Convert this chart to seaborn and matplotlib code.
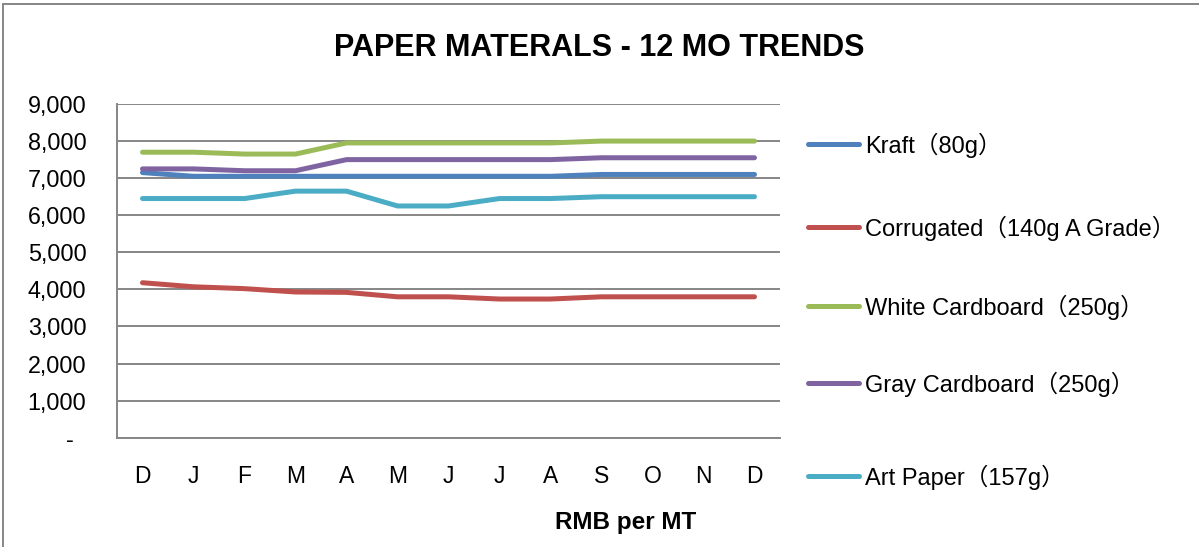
import matplotlib
matplotlib.use("Agg")
import matplotlib.pyplot as plt
from matplotlib.lines import Line2D
from matplotlib.ticker import FuncFormatter, MultipleLocator
import numpy as np
import pandas as pd
import seaborn as sns

# Month labels (Dec through Dec)
months = ["D", "J", "F", "M", "A", "M", "J", "J", "A", "S", "O", "N", "D"]

# Prices in RMB per metric ton
kraft = [7150, 7050, 7050, 7050, 7050, 7050, 7050, 7050, 7050, 7100, 7100, 7100, 7100]
corrugated = [4180, 4070, 4020, 3930, 3920, 3800, 3800, 3740, 3740, 3800, 3800, 3800, 3800]
white_cardboard = [7700, 7700, 7650, 7650, 7950, 7950, 7950, 7950, 7950, 8000, 8000, 8000, 8000]
gray_cardboard = [7250, 7250, 7200, 7200, 7500, 7500, 7500, 7500, 7500, 7550, 7550, 7550, 7550]
art_paper = [6450, 6450, 6450, 6650, 6650, 6250, 6250, 6450, 6450, 6500, 6500, 6500, 6500]

series_names = [
    "Kraft（80g）",
    "Corrugated（140g A Grade）",
    "White Cardboard（250g）",
    "Gray Cardboard（250g）",
    "Art Paper（157g）",
]
series_values = [kraft, corrugated, white_cardboard, gray_cardboard, art_paper]
colors = ["#4F81BD", "#C0504D", "#9BBB59", "#8064A2", "#4BACC6"]

df = pd.concat(
    [pd.DataFrame({"idx": np.arange(len(months)), "price": vals, "material": name})
     for name, vals in zip(series_names, series_values)],
    ignore_index=True,
)

sns.set_theme(style="white")
plt.rcParams["font.family"] = ["Liberation Sans", "Noto Sans CJK SC", "DejaVu Sans"]
plt.rcParams["text.color"] = "black"

W, H = 1199, 547
fig = plt.figure(figsize=(W / 100, H / 100), dpi=100)
fig.patch.set_facecolor("white")

left, right, top, bottom = 117, 780, 104, 437.7
ax = fig.add_axes([left / W, 1 - bottom / H, (right - left) / W, (bottom - top) / H])

sns.lineplot(
    data=df, x="idx", y="price", hue="material", hue_order=series_names,
    palette=colors, linewidth=3.6, ax=ax, sort=False, estimator=None,
)

grid_color = "#868686"
ax.set_xlim(-0.5, len(months) - 0.5)
ax.set_ylim(0, 9000)
ax.yaxis.set_major_locator(MultipleLocator(1000))
ax.yaxis.set_major_formatter(FuncFormatter(lambda v, p: "-  " if v == 0 else f"{v:,.0f}"))
ax.set_xticks(np.arange(len(months)))
ax.set_xticklabels(months)
ax.grid(axis="y", color=grid_color, linewidth=1.4)
ax.set_axisbelow(True)
for s in ["top", "right"]:
    ax.spines[s].set_visible(False)
for s in ["left", "bottom"]:
    ax.spines[s].set_color(grid_color)
    ax.spines[s].set_linewidth(1.4)
ax.tick_params(axis="y", left=False, labelsize=16.8, pad=16, labelcolor="black")
ax.tick_params(axis="x", bottom=False, labelsize=16.5, pad=14, labelcolor="black")
ax.set_xlabel("")
ax.set_ylabel("")

# Legend entries, one per row, on the right of the plot
handles, labels = ax.get_legend_handles_labels()
ax.get_legend().remove()
legend_rows = [145, 228, 307, 384, 477]
for h, lab, y in zip(handles, labels, legend_rows):
    fig.legend(
        [h], [lab], loc="center left", bbox_to_anchor=(808 / W, 1 - y / H),
        bbox_transform=fig.transFigure, frameon=False, fontsize=17, labelcolor="black",
        handlelength=2.15, handletextpad=0.25, borderaxespad=0, borderpad=0,
    )

fig.text(0.5, 1 - 48 / H, "PAPER MATERALS - 12 MO TRENDS", ha="center", va="center",
         fontsize=22, fontweight="bold", color="black")
fig.text(626 / W, 1 - 522 / H, "RMB per MT", ha="center", va="center",
         fontsize=17.5, fontweight="bold", color="black")

# Chart frame (top and left edges)
fig.add_artist(Line2D([3 / W, 3 / W], [0, 1 - 4 / H], transform=fig.transFigure,
                      color=grid_color, linewidth=1.4))
fig.add_artist(Line2D([3 / W, 1], [1 - 4 / H, 1 - 4 / H], transform=fig.transFigure,
                      color=grid_color, linewidth=1.4))

fig.savefig("out.png", dpi=100)
